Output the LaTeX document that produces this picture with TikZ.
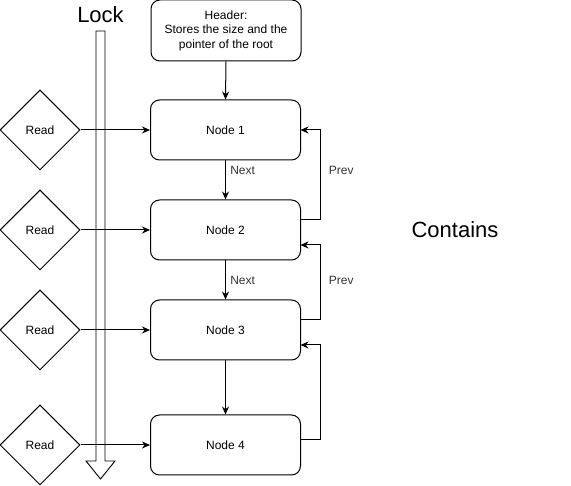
\documentclass[tikz,border=0pt]{standalone}
\usepackage{fontspec}
\setmainfont{Liberation Sans}
\usetikzlibrary{shapes.geometric,arrows.meta}
\begin{document}
\begin{tikzpicture}[x=1pt,y=-1pt,line width=1pt,
  box/.style={draw,rounded corners=9pt,minimum width=150pt,minimum height=60pt,inner sep=0pt,font=\fontsize{12}{14.5}\selectfont,align=center},
  readbox/.style={draw,diamond,aspect=1,minimum width=80pt,minimum height=80pt,inner sep=0pt,font=\fontsize{12}{14}\selectfont},
  conn/.style={-{Stealth[length=8pt,width=7pt]}},
  lbl/.style={font=\fontsize{12}{14}\selectfont,text=black!80},
  big/.style={font=\fontsize{22}{26}\selectfont}]
\useasboundingbox (0,0) rectangle (571,486);
% lock arrow
\draw[line width=0.9pt] (96,31) -- (105,31) -- (105,461) -- (115,461) -- (100.5,479) -- (86,461) -- (96,461) -- cycle;
\node[big] (lock) at (100.5,15) {Lock};
\node[big] (contains) at (455,230) {Contains};
% boxes
\node[box,minimum height=61pt] (hdr) at (226,30.5) {Header:\\Stores the size and the\\pointer of the root};
\node[box] (n1) at (225.5,130) {Node 1};
\node[box] (n2) at (225.5,230) {Node 2};
\node[box] (n3) at (225.5,330) {Node 3};
\node[box] (n4) at (225.5,445) {Node 4};
% read diamonds
\node[readbox] (r1) at (40,130) {Read};
\node[readbox] (r2) at (40,230) {Read};
\node[readbox] (r3) at (40,330) {Read};
\node[readbox] (r4) at (40,445) {Read};
\foreach \i in {1,2,3,4} \draw[conn] (r\i.east) -- (n\i.west);
% vertical
\draw[conn] (hdr.south) -- (n1.north);
\draw[conn] (n1.south) -- node[lbl,right,pos=0.25,xshift=1pt] {Next} (n2.north);
\draw[conn] (n2.south) -- node[lbl,right,pos=0.5,xshift=1pt] {Next} (n3.north);
\draw[conn] (n3.south) -- (n4.north);
% prev
\coordinate (p1a) at (300.5,220);
\coordinate (p1b) at (300.5,130);
\draw[conn] (p1a) -- (320,220) -- node[lbl,right,xshift=5pt,pos=0.556] {Prev} (320,130) -- (p1b);
\coordinate (p2a) at (300.5,320);
\coordinate (p2b) at (300.5,245);
\draw[conn] (p2a) -- (320,320) -- node[lbl,right,xshift=5pt,pos=0.533] {Prev} (320,245) -- (p2b);
\coordinate (p3a) at (300.5,440);
\coordinate (p3b) at (300.5,345);
\draw[conn] (p3a) -- (320,440) -- (320,345) -- (p3b);
\end{tikzpicture}
\end{document}
